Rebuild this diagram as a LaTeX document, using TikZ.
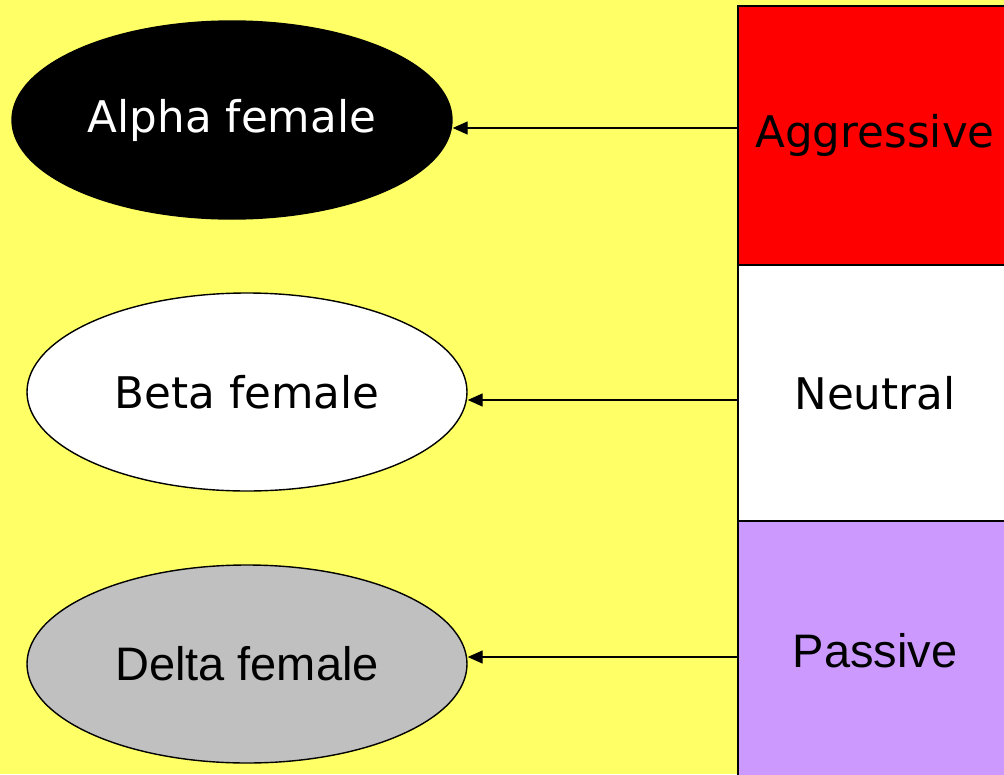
\documentclass[tikz,border=0pt]{standalone}
\usepackage{fontspec}
\usepackage{xcolor}
\usepackage{tikz}
\usetikzlibrary{shapes.geometric,arrows.meta}
\setmainfont{Liberation Sans}
\newfontfamily\comicfont{DejaVu Sans}
\definecolor{bgyellow}{HTML}{FFFF66}
\definecolor{passviolet}{HTML}{CC99FF}
\definecolor{deltagrey}{HTML}{C0C0C0}
\tikzset{
  levelbox/.style={draw, line width=1.4pt, minimum width=274pt, inner sep=0pt},
  femaleoval/.style={ellipse, draw, line width=1.4pt, minimum width=440pt, minimum height=198pt, inner sep=0pt},
  comictext/.style={font=\comicfont\fontsize{43.6}{50}\selectfont},
  arialtext/.style={font=\fontsize{47}{54}\selectfont}
}
\begin{document}
\begin{tikzpicture}[x=1pt,y=-1pt]
			% nền
			\fill[bgyellow] (0,0) rectangle (1004,774);
			\useasboundingbox (0,0) rectangle (1004,774);
			% các hộp bên phải
			\node[levelbox, fill=red, minimum height=259pt, comictext] (aggr) at (875,135.5) {Aggressive};
			\node[levelbox, fill=white, minimum height=256pt, comictext] (neut) at (875,393) {Neutral};
			\node[levelbox, fill=passviolet, minimum height=259pt, arialtext] (pass) at (875,650.5) {Passive};
			% các hình elip
			\node[femaleoval, fill=black, text=white, comictext] (alpha) at (232,120) {Alpha female};
			\node[femaleoval, fill=white, comictext] (beta) at (247,392) {Beta female};
			\node[femaleoval, fill=deltagrey, arialtext] (delta) at (247,664) {Delta female};
			% mũi tên
			\foreach \s/\e/\y in {aggr/alpha/128,neut/beta/400,pass/delta/657}
			\draw [line width=1.4pt, -{Triangle[length=15pt,width=13pt]}] (\s.west |- 0,\y) -- (\e.east |- 0,\y);
		\end{tikzpicture}
\end{document}
